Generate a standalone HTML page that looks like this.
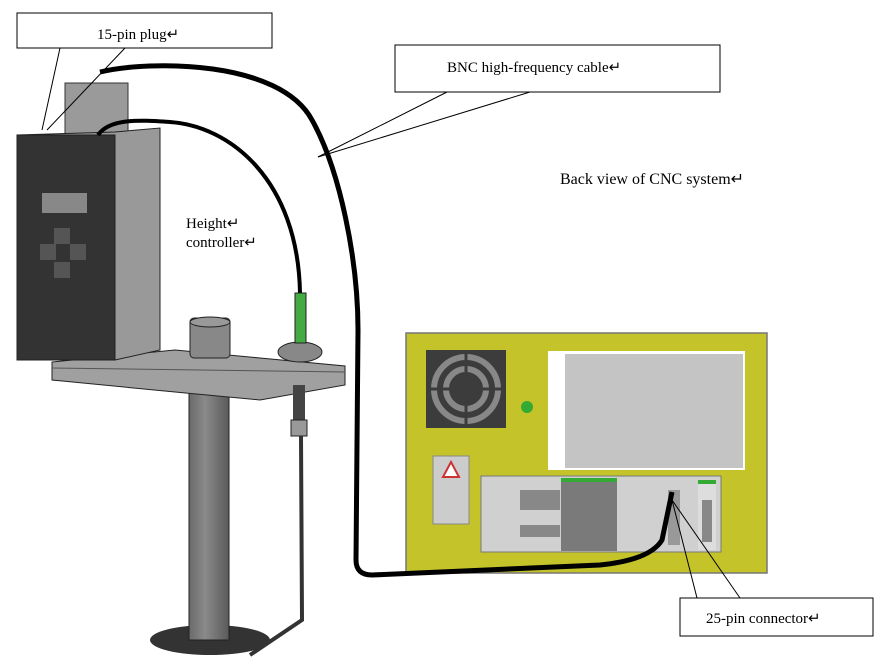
<!DOCTYPE html>
<html><head><meta charset="utf-8"><style>
html,body{margin:0;padding:0;background:#fff;width:881px;height:669px;overflow:hidden}
svg{display:block}
text{font-family:"Liberation Serif",serif;fill:#000}
</style></head><body>
<svg width="881" height="669" viewBox="0 0 881 669" xmlns="http://www.w3.org/2000/svg">
<defs>
<linearGradient id="post" x1="0" x2="1"><stop offset="0" stop-color="#6a6a6a"/><stop offset=".4" stop-color="#8a8a8a"/><stop offset="1" stop-color="#5a5a5a"/></linearGradient>
</defs>
<rect x="406" y="333" width="361" height="240" fill="#c4c42a" stroke="#777" stroke-width="1.5"/>
<rect x="426" y="350" width="80" height="78" fill="#3c3c3c"/>
<circle cx="466" cy="389" r="32" fill="none" stroke="#888" stroke-width="6"/>
<circle cx="466" cy="389" r="20" fill="none" stroke="#888" stroke-width="6"/>
<line x1="466" y1="352" x2="466" y2="426" stroke="#3c3c3c" stroke-width="3"/>
<line x1="428" y1="389" x2="504" y2="389" stroke="#3c3c3c" stroke-width="3"/>
<circle cx="527" cy="407" r="6" fill="#3a3"/>
<rect x="548" y="351" width="197" height="119" fill="#fff"/>
<rect x="565" y="354" width="178" height="114" fill="#c4c4c4"/>
<rect x="433" y="456" width="36" height="68" fill="#ccc" stroke="#888"/>
<polygon points="451,462 443,477 459,477" fill="#fff" stroke="#c33" stroke-width="2"/>
<rect x="481" y="476" width="240" height="76" fill="#d0d0d0" stroke="#777"/>
<rect x="561" y="478" width="56" height="73" fill="#7a7a7a"/>
<rect x="561" y="478" width="56" height="4" fill="#3a3"/>
<rect x="520" y="490" width="40" height="20" fill="#888"/>
<rect x="520" y="525" width="40" height="12" fill="#888"/>
<rect x="698" y="480" width="18" height="70" fill="#ddd"/>
<rect x="698" y="480" width="18" height="4" fill="#3a3"/>
<rect x="702" y="500" width="10" height="42" fill="#888"/>
<rect x="668" y="490" width="12" height="55" fill="#999"/>
<path d="M100,72 C150,60 280,60 312,120 C340,170 358,260 358,330 L356,560 Q356,575 372,575 L600,565 Q650,560 662,540 L672,492" fill="none" stroke="#000" stroke-width="5"/>
<ellipse cx="210" cy="640" rx="60" ry="15" fill="#333"/>
<rect x="189" y="390" width="40" height="250" fill="url(#post)" stroke="#222"/>
<polygon points="52,362 175,350 260,358 345,366 345,385 260,400 175,392 52,380" fill="#a0a0a0" stroke="#222"/>
<line x1="52" y1="368" x2="345" y2="372" stroke="#555"/>
<rect x="190" y="318" width="40" height="40" rx="4" fill="#888" stroke="#222"/>
<ellipse cx="210" cy="322" rx="20" ry="5" fill="#999" stroke="#222"/>
<ellipse cx="300" cy="352" rx="22" ry="10" fill="#888" stroke="#222"/>
<rect x="293" y="385" width="12" height="45" fill="#444"/>
<rect x="291" y="420" width="16" height="16" fill="#999" stroke="#222"/>
<path d="M301,436 L302,620 L250,655" fill="none" stroke="#333" stroke-width="4"/>
<rect x="65" y="83" width="63" height="55" fill="#9a9a9a" stroke="#333"/>
<polygon points="17,135 115,132 160,128 160,350 115,360 17,358" fill="#999" stroke="#222"/>
<rect x="17" y="135" width="98" height="225" fill="#333" stroke="#222"/>
<rect x="42" y="193" width="45" height="20" fill="#888"/>
<rect x="54" y="228" width="16" height="16" fill="#555"/>
<rect x="40" y="244" width="16" height="16" fill="#555"/>
<rect x="70" y="244" width="16" height="16" fill="#555"/>
<rect x="54" y="262" width="16" height="16" fill="#555"/>
<path d="M98,135 C110,118 140,120 170,122 C230,126 298,180 300,293" fill="none" stroke="#000" stroke-width="4"/>
<rect x="295" y="293" width="11" height="50" fill="#4a4" stroke="#222"/>
<rect x="17" y="13" width="255" height="35" fill="#fff" stroke="#000"/>
<text x="97" y="39" font-size="15">15-pin plug↵</text>
<line x1="60" y1="48" x2="42" y2="130" stroke="#000"/>
<line x1="125" y1="48" x2="47" y2="130" stroke="#000"/>
<rect x="395" y="45" width="325" height="47" fill="#fff" stroke="#000"/>
<text x="447" y="72" font-size="15">BNC high-frequency cable↵</text>
<line x1="447" y1="92" x2="318" y2="157" stroke="#000"/>
<line x1="530" y1="92" x2="318" y2="157" stroke="#000"/>
<text x="560" y="184" font-size="16">Back view of CNC system↵</text>
<text x="186" y="228" font-size="15">Height↵</text>
<text x="186" y="247" font-size="15">controller↵</text>
<line x1="672" y1="500" x2="697" y2="598" stroke="#000"/>
<line x1="672" y1="500" x2="740" y2="598" stroke="#000"/>
<rect x="680" y="598" width="193" height="38" fill="#fff" stroke="#000"/>
<text x="706" y="623" font-size="15">25-pin connector↵</text>
</svg>
</body></html>
